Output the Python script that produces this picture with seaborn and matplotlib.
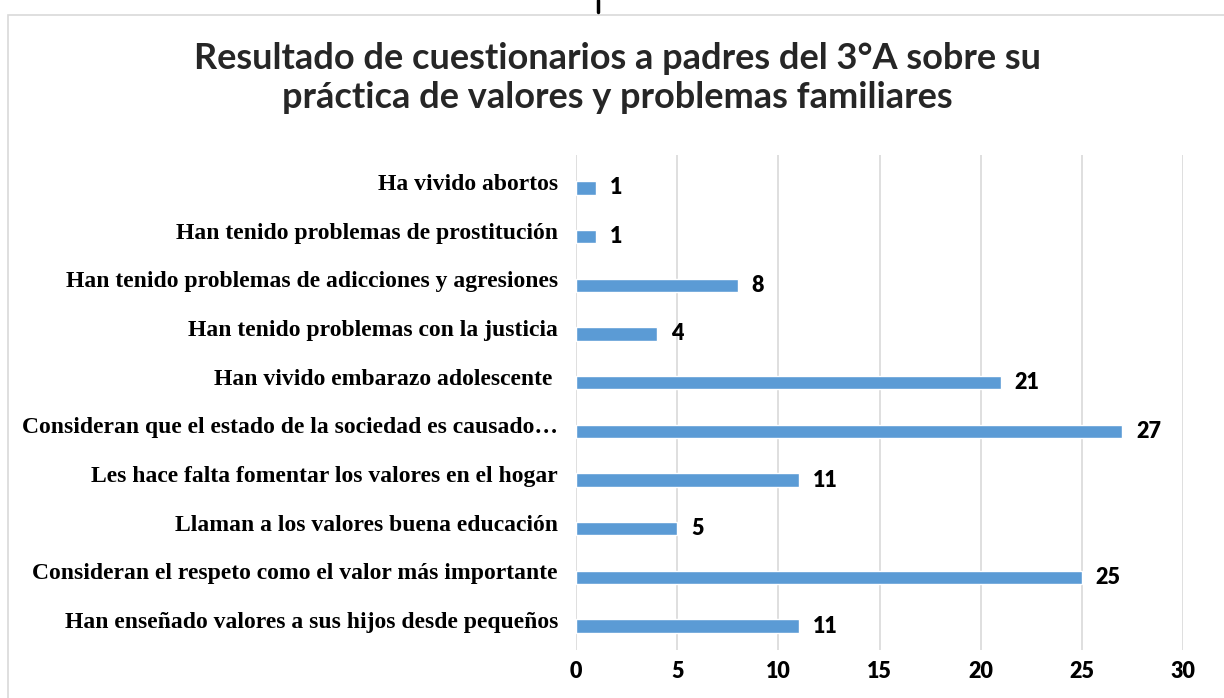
import numpy as np
import matplotlib
matplotlib.use("Agg")
import matplotlib.pyplot as plt
import matplotlib.transforms as mtransforms
from matplotlib.font_manager import FontProperties
from matplotlib.patches import Rectangle
from matplotlib.lines import Line2D
import pandas as pd
import seaborn as sns

title = "Resultado de cuestionarios a padres del 3°A sobre su\npráctica de valores y problemas familiares"

categories = [
    "Ha vivido abortos",
    "Han tenido problemas de prostitución",
    "Han tenido problemas de adicciones y agresiones",
    "Han tenido problemas con la justicia",
    "Han vivido embarazo adolescente ",
    "Consideran que el estado de la sociedad es causado…",
    "Les hace falta fomentar los valores en el hogar",
    "Llaman a los valores buena educación",
    "Consideran el respeto como el valor más importante",
    "Han enseñado valores a sus hijos desde pequeños",
]
counts = [1, 1, 8, 4, 21, 27, 11, 5, 25, 11]
x_ticks = [0, 5, 10, 15, 20, 25, 30]

df = pd.DataFrame({"Pregunta": categories, "Padres": counts})

sns.set_theme(style="white")
plt.rcParams['font.family'] = 'Lato'

num_font = FontProperties(family='Lato', weight='heavy', size=15.5)
cat_font = FontProperties(family='Liberation Serif', weight='bold', size=17)
title_font = FontProperties(family='Lato', weight='bold', size=26)

fig = plt.figure(figsize=(12.24, 6.98), dpi=100)
ax = fig.add_axes([576 / 1224, 1 - 650 / 698, (1183 - 576) / 1224, (650 - 155) / 698])

# chart border like the Excel frame
fig.add_artist(Rectangle((8 / 1224, -0.05), 1.2, 0.05 + 1 - 15 / 698, transform=fig.transFigure,
                         fill=False, edgecolor='#d9d9d9', linewidth=1.2, zorder=0))
# cut-off glyph at the very top of the screenshot
fig.add_artist(Line2D([598 / 1224, 598 / 1224], [1.0, 1 - 12 / 698], transform=fig.transFigure,
                      color='black', linewidth=2.5))

sns.barplot(data=df, x="Padres", y="Pregunta", orient='h', color='#5B9BD5', width=0.27,
            saturation=1, ax=ax, zorder=3)

ax.set_xlim(0, 30)
ax.set_ylim(9 + 24 / 48.67, -33 / 48.67)
ax.set_xticks(x_ticks)
ax.grid(axis='x', color='#d9d9d9', linewidth=1.2, zorder=0)
ax.grid(axis='y', visible=False)
for s in ax.spines.values():
    s.set_visible(False)

ax.set_xlabel("")
ax.set_ylabel("")
ax.tick_params(axis='both', length=0)
ax.tick_params(axis='x', pad=8)
ax.tick_params(axis='y', pad=13)

for lab in ax.get_xticklabels():
    lab.set_fontproperties(num_font)
    lab.set_color('black')

offset = mtransforms.ScaledTranslation(0, 6 / 100, fig.dpi_scale_trans)
for lab in ax.get_yticklabels():
    lab.set_fontproperties(cat_font)
    lab.set_color('black')
    lab.set_transform(lab.get_transform() + offset)

for cont in ax.containers:
    labels = ax.bar_label(cont, padding=10, color='black')
    for t in labels:
        t.set_fontproperties(num_font)
        t.set_transform(t.get_transform() + mtransforms.ScaledTranslation(0, -3 / 100, fig.dpi_scale_trans))

fig.text(617 / 1224, 1 - 78 / 698, title, ha='center', va='center', fontproperties=title_font,
         color='#262626', linespacing=1.25)

fig.savefig("out.png", dpi=100)
